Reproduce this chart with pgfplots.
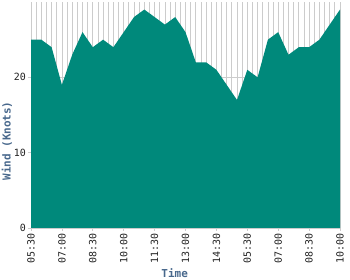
\documentclass[border=0pt]{standalone}
\usepackage{fontspec}
\usepackage{pgfplots}
\pgfplotsset{compat=1.18}
\newfontfamily\monof{DejaVu Sans Mono}
\definecolor{areateal}{RGB}{0,137,123}
\definecolor{labblue}{RGB}{72,104,140}
\definecolor{gridgray}{RGB}{204,204,204}
\definecolor{ticktext}{RGB}{34,34,34}
\begin{document}
\begin{tikzpicture}[x=1bp,y=1bp]
\useasboundingbox (0,0) rectangle (350,280);
\begin{axis}[
  at={(31bp,52bp)}, anchor=south west,
  scale only axis, width=309bp, height=226bp,
  xmin=0, xmax=30, ymin=0, ymax=30,
  axis line style={draw=none},
  xtick={0,3,...,30},
  xticklabels={05:30,07:00,08:30,10:00,11:30,13:00,14:30,05:30,07:00,08:30,10:00},
  minor x tick num=5,
  xmajorgrids, xminorgrids, ymajorgrids,
  grid style={gridgray, line width=0.8pt},
  minor grid style={gridgray, line width=0.8pt},
  minor tick length=0pt,
  ytick={0,10,20}, yticklabels={0,10,20},
  tick align=outside, major tick length=3bp,
  tick style={gridgray, line width=0.8pt},
  xtick pos=bottom, ytick pos=left,
  ticklabel style={font=\monof\fontsize{10}{12}\selectfont, text=ticktext},
  x tick label style={rotate=90, anchor=east, inner sep=2bp},
  y tick label style={inner sep=2bp},
  xlabel={Time}, ylabel={Wind (Knots)},
  label style={font=\monof\bfseries\fontsize{11}{13}\selectfont, text=labblue},
  xlabel style={at={(axis description cs:0.465,0)}, anchor=center, yshift=-45bp},
  ylabel style={at={(axis description cs:-0.078,0.385)}, anchor=center},
]
\addplot[fill=areateal, draw=none] coordinates {
(0,25) (1,25) (2,24) (3,19) (4,23) (5,26) (6,24) (7,25) (8,24) (9,26)
(10,28) (11,29) (12,28) (13,27) (14,28) (15,26) (16,22) (17,22) (18,21) (19,19)
(20,17) (21,21) (22,20) (23,25) (24,26) (25,23) (26,24) (27,24) (28,25) (29,27)
(30,29)
} \closedcycle;
\end{axis}
\end{tikzpicture}
\end{document}
